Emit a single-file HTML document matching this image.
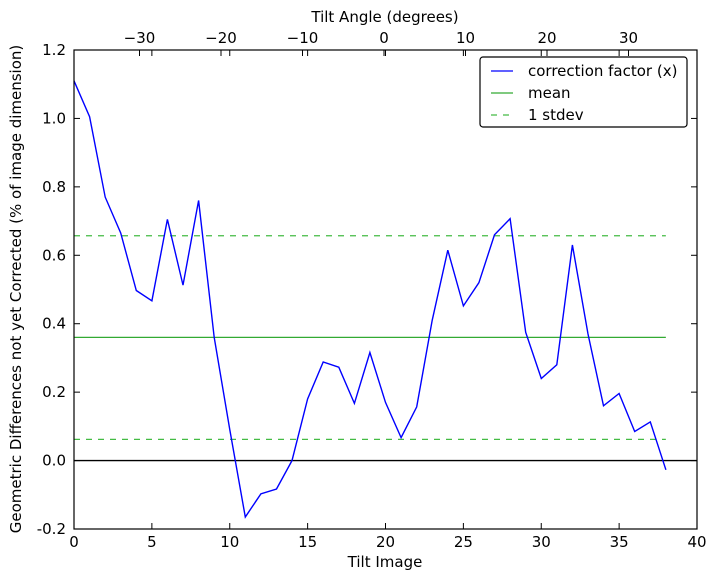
<!DOCTYPE html>
<html><head><meta charset="utf-8"><style>
body{margin:0;background:#fff;}
svg{display:block;font-family:"DejaVu Sans","Liberation Sans",sans-serif;}
</style></head><body>
<svg id="chart" width="714" height="579" xmlns="http://www.w3.org/2000/svg"></svg>
<script>
const tiltImages=[0,1,2,3,4,5,6,7,8,9,10,11,12,13,14,15,16,17,18,19,20,21,22,23,24,25,26,27,28,29,30,31,32,33,34,35,36,37,38];
const correction=[1.11,1.005,0.77,0.665,0.497,0.467,0.705,0.513,0.76,0.36,0.09,-0.165,-0.097,-0.083,0.0,0.18,0.288,0.273,0.167,0.316,0.17,0.067,0.157,0.41,0.615,0.452,0.52,0.66,0.707,0.375,0.24,0.28,0.63,0.37,0.16,0.196,0.085,0.113,-0.027];
const meanValue=[0.36];
const stdevBounds=[0.657,0.062];
const xTicks=[0,5,10,15,20,25,30,35,40];
const yTicks=[-0.2,0.0,0.2,0.4,0.6,0.8,1.0,1.2];
const topTicks=[-30,-20,-10,0,10,20,30];

const NS="http://www.w3.org/2000/svg";
const svg=document.getElementById('chart');
const L=74,R=697,T=50,B=529;
const xs=v=>L+(v-0)/(40-0)*(R-L);
const ys=v=>B-(v+0.2)/(1.4)*(B-T);
const ts=v=>384+v*8.15;
function mk(tag,attrs,parent){const e=document.createElementNS(NS,tag);for(const k in attrs)e.setAttribute(k,attrs[k]);(parent||svg).appendChild(e);return e;}
function txt(s,attrs){const e=mk('text',attrs);e.textContent=s;return e;}

let z=mk('line',{x1:L,x2:R,y1:ys(0),y2:ys(0),stroke:'#000','stroke-width':1.3});


let m=mk('line',{x1:xs(0),x2:xs(38),y1:ys(meanValue[0]),y2:ys(meanValue[0]),stroke:'#3a3','stroke-width':1.3});


stdevBounds.forEach((v,i)=>{
 let s=mk('line',{x1:xs(0),x2:xs(38),y1:ys(v),y2:ys(v),stroke:'#4b4','stroke-width':1.3,'stroke-dasharray':'6,6'});
 
 
});
let pts=tiltImages.map((x,i)=>xs(x).toFixed(1)+','+ys(correction[i]).toFixed(1)).join(' ');
let pl=mk('polyline',{points:pts,fill:'none',stroke:'#00f','stroke-width':1.4});


let fr=mk('rect',{x:L,y:T,width:R-L,height:B-T,fill:'none',stroke:'#000','stroke-width':1.2});


xTicks.forEach(v=>{
 const x=xs(v);
 mk('line',{x1:x,x2:x,y1:B,y2:B-6,stroke:'#000'});
 mk('line',{x1:x,x2:x,y1:T,y2:T+6,stroke:'#000'});
 let t=txt(String(v),{x:x,y:B+18,'text-anchor':'middle','font-size':15});
 
 
});
yTicks.forEach(v=>{
 const y=ys(v);
 mk('line',{x1:L,x2:L+6,y1:y,y2:y,stroke:'#000'});
 mk('line',{x1:R,x2:R-6,y1:y,y2:y,stroke:'#000'});
 let t=txt(v.toFixed(1),{x:L-8,y:y+5,'text-anchor':'end','font-size':15});
 
 
});
topTicks.forEach(v=>{
 const x=ts(v);
 mk('line',{x1:x,x2:x,y1:T,y2:T+6,stroke:'#000'});
 let t=txt(v<0?'\u2212'+Math.abs(v):String(v),{x:x,y:T-7,'text-anchor':'middle','font-size':15});
 
 
});
let xt=txt('Tilt Image',{x:385,y:567,'text-anchor':'middle','font-size':15});


let tt=txt('Tilt Angle (degrees)',{x:385,y:22,'text-anchor':'middle','font-size':15});


let yt=txt('Geometric Differences not yet Corrected (% of image dimension)',{x:0,y:0,'text-anchor':'middle','font-size':15,transform:'translate(21,289) rotate(-90)'});


let lg=mk('g',{});


mk('rect',{x:480,y:57,width:207,height:70,rx:3,fill:'#fff',stroke:'#000','stroke-width':1.2},lg);
const entries=[['correction factor (x)','#00f',''],['mean','#3a3',''],['1 stdev','#4b4','6,6']];
entries.forEach((e,i)=>{
 const y=71+i*22;
 let g=mk('g',{},lg);
 
 
 mk('line',{x1:491,x2:513,y1:y,y2:y,stroke:e[1],'stroke-width':1.3,'stroke-dasharray':e[2]||'none'},g);
 let t=mk('text',{x:528,y:y+5,'font-size':15},g);t.textContent=e[0];
});
</script>
</body></html>
